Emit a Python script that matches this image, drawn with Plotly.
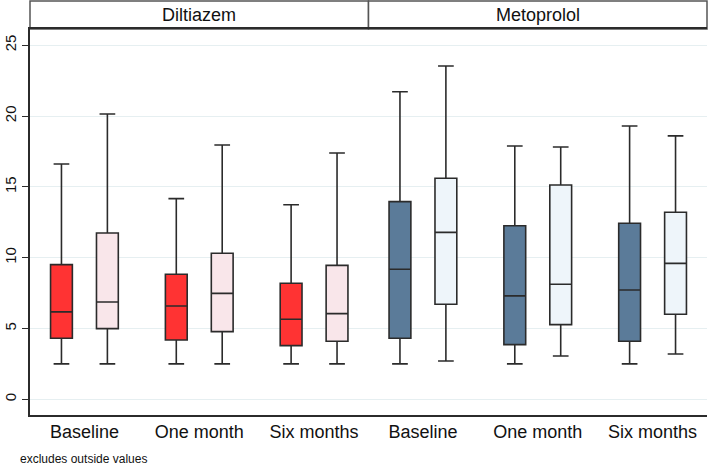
import plotly.graph_objects as go

# ---- data ----
drugs = ["Diltiazem", "Metoprolol"]
timepoints = ["Baseline", "One month", "Six months"]

# Diltiazem: first (dark) and second (light) box per timepoint
dil_a_low = [2.5, 2.5, 2.5]
dil_a_q1 = [4.31, 4.19, 3.79]
dil_a_med = [6.17, 6.59, 5.65]
dil_a_q3 = [9.51, 8.83, 8.19]
dil_a_high = [16.62, 14.17, 13.74]

dil_b_low = [2.5, 2.5, 2.5]
dil_b_q1 = [4.99, 4.78, 4.10]
dil_b_med = [6.87, 7.48, 6.05]
dil_b_q3 = [11.74, 10.31, 9.46]
dil_b_high = [20.15, 17.96, 17.39]

# Metoprolol
met_a_low = [2.5, 2.5, 2.5]
met_a_q1 = [4.31, 3.86, 4.10]
met_a_med = [9.18, 7.30, 7.72]
met_a_q3 = [13.96, 12.26, 12.43]
met_a_high = [21.72, 17.89, 19.30]

met_b_low = [2.70, 3.06, 3.20]
met_b_q1 = [6.71, 5.27, 6.00]
met_b_med = [11.79, 8.12, 9.60]
met_b_q3 = [15.61, 15.13, 13.21]
met_b_high = [23.54, 17.82, 18.60]

ytick_vals = [0, 5, 10, 15, 20, 25]

# ---- styling ----
c_red = "#FF3333"
c_pink = "#F9E6EA"
c_blue = "#5B7B99"
c_lblue = "#EEF5FA"
c_line = "#2b2b2b"
FONT = "Liberation Sans, Arial, sans-serif"

fig = go.Figure()

def add_boxes(xaxis, offset, low, q1, med, q3, high, fill):
    for i in range(len(timepoints)):
        fig.add_trace(go.Box(
            x=[i + 1 + offset], q1=[q1[i]], median=[med[i]], q3=[q3[i]],
            lowerfence=[low[i]], upperfence=[high[i]],
            width=0.19, whiskerwidth=0.72,
            fillcolor=fill, line=dict(color=c_line, width=1.6),
            xaxis=xaxis, yaxis="y", showlegend=False, boxpoints=False,
        ))

add_boxes("x", -0.2, dil_a_low, dil_a_q1, dil_a_med, dil_a_q3, dil_a_high, c_red)
add_boxes("x", 0.2, dil_b_low, dil_b_q1, dil_b_med, dil_b_q3, dil_b_high, c_pink)
add_boxes("x2", -0.2, met_a_low, met_a_q1, met_a_med, met_a_q3, met_a_high, c_blue)
add_boxes("x2", 0.2, met_b_low, met_b_q1, met_b_med, met_b_q3, met_b_high, c_lblue)

xcommon = dict(
    range=[0.526, 3.474], tickvals=[1, 2, 3], ticktext=timepoints,
    showgrid=False, zeroline=False, showline=True, linecolor=c_line,
    linewidth=1.5, mirror=True, ticks="", ticklen=0,
    tickfont=dict(family=FONT, size=18, color="#111"),
)

fig.update_layout(
    width=709, height=465,
    margin=dict(l=26, r=2, t=29, b=50),
    paper_bgcolor="white", plot_bgcolor="white",
    font=dict(family=FONT, color="#111"),
    xaxis=dict(domain=[0, 0.5], anchor="y", **xcommon),
    xaxis2=dict(domain=[0.5, 1], anchor="y", **xcommon),
    yaxis=dict(
        range=[-1.11, 26.15], tickvals=ytick_vals, tickangle=-90,
        showgrid=True, gridcolor="#E6EFF1", gridwidth=1, zeroline=False,
        showline=True, linecolor=c_line, linewidth=1.5,
        ticks="outside", ticklen=6, tickcolor=c_line,
        tickfont=dict(family=FONT, size=15, color="#111"),
    ),
    showlegend=False,
)

# header strips
hdr_top = 1 + 28 / 386
for k, (x0, x1) in enumerate([(0, 0.5), (0.5, 1)]):
    fig.add_shape(type="rect", xref="paper", yref="paper",
                  x0=x0, x1=x1, y0=1, y1=hdr_top,
                  line=dict(color="#555", width=1.5), fillcolor="white", layer="below")
    fig.add_annotation(x=(x0 + x1) / 2, y=(1 + hdr_top) / 2, xref="paper", yref="paper",
                       text=drugs[k], showarrow=False,
                       font=dict(family=FONT, size=18, color="#111"),
                       xanchor="center", yanchor="middle")

fig.add_annotation(x=-12 / 681, y=-44 / 386, xref="paper", yref="paper",
                   text="excludes outside values", showarrow=False,
                   font=dict(family=FONT, size=12, color="#111"),
                   xanchor="left", yanchor="middle")

fig.write_html("out.html")
